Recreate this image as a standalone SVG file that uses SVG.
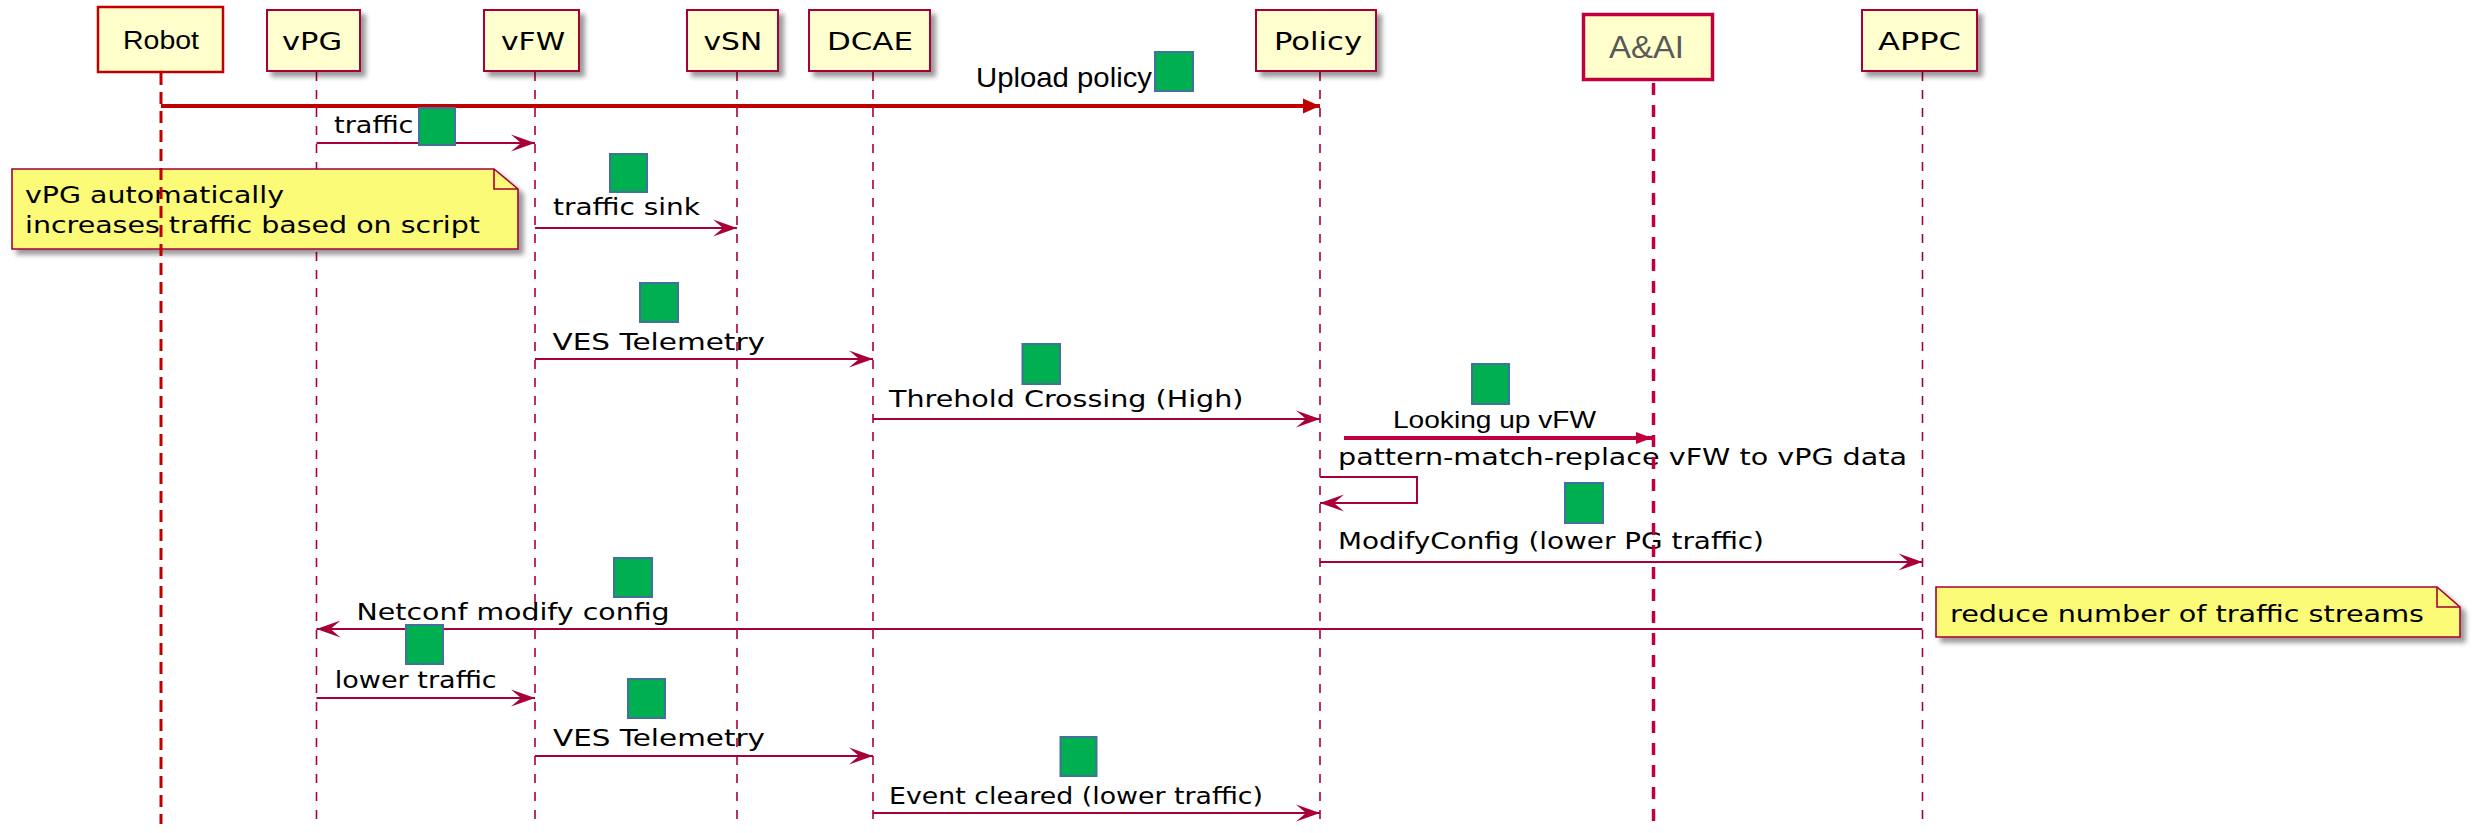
<svg xmlns="http://www.w3.org/2000/svg" width="2476" height="833" viewBox="0 0 2476 833">
<defs>
<style>
.pbox{fill:#FEFECE;stroke:#A80036;stroke-width:2}
.ptxt{font-family:"DejaVu Sans",sans-serif;font-size:25px;fill:#000}
.life{stroke:#A80036;stroke-width:1.6;stroke-dasharray:9 9;fill:none}
.msg{stroke:#A80036;stroke-width:2;fill:none;marker-end:url(#ah)}
.mtxt{font-family:"DejaVu Sans",sans-serif;font-size:23px;fill:#000}
.note{fill:#FBFB77;stroke:#A80036;stroke-width:1.6}
.ovl{font-family:"Liberation Sans",Arial,sans-serif;fill:#000}
.gsq{fill:#00B050;stroke:#41719C;stroke-width:2}
</style>
<filter id="sh" x="-10%" y="-10%" width="130%" height="140%">
<feGaussianBlur in="SourceAlpha" stdDeviation="2.5"/>
<feOffset dx="5" dy="5" result="o"/>
<feComponentTransfer><feFuncA type="linear" slope="0.4"/></feComponentTransfer>
<feMerge><feMergeNode/><feMergeNode in="SourceGraphic"/></feMerge>
</filter>
<marker id="ah" markerUnits="userSpaceOnUse" markerWidth="26" markerHeight="20" refX="24" refY="10" orient="auto" overflow="visible">
<path d="M24,10 L0,1.5 L10,10 L0,18.5 Z" fill="#A80036"/>
</marker>
<marker id="ahred" markerUnits="userSpaceOnUse" markerWidth="18" markerHeight="16" refX="17" refY="8" orient="auto" overflow="visible">
<path d="M0,0.5 L17,8 L0,15.5 Z" fill="#C00000"/>
</marker>
<marker id="ahcr" markerUnits="userSpaceOnUse" markerWidth="17" markerHeight="14" refX="16" refY="7" orient="auto" overflow="visible">
<path d="M0,1 L16,7 L0,13 Z" fill="#C0003C"/>
</marker>
</defs>
<rect width="2476" height="833" fill="#FFFFFF"/>

<g id="lifelines">
<line class="life" x1="316.5" y1="72" x2="316.5" y2="824"/>
<line class="life" x1="535" y1="72" x2="535" y2="824"/>
<line class="life" x1="737" y1="72" x2="737" y2="824"/>
<line class="life" x1="873" y1="72" x2="873" y2="824"/>
<line class="life" x1="1320" y1="72" x2="1320" y2="824"/>
<line class="life" x1="1922.5" y1="72" x2="1922.5" y2="824"/>
</g>

<g id="vPG"><rect class="pbox" x="267" y="10" width="93" height="61" filter="url(#sh)"/><text class="ptxt" x="282" y="50" textLength="60" lengthAdjust="spacingAndGlyphs">vPG</text></g>
<g id="vFW"><rect class="pbox" x="484" y="10" width="95" height="61" filter="url(#sh)"/><text class="ptxt" x="501" y="50" textLength="64" lengthAdjust="spacingAndGlyphs">vFW</text></g>
<g id="vSN"><rect class="pbox" x="687" y="10" width="91" height="61" filter="url(#sh)"/><text class="ptxt" x="703.5" y="50" textLength="58.6" lengthAdjust="spacingAndGlyphs">vSN</text></g>
<g id="DCAE"><rect class="pbox" x="809" y="10" width="121" height="61" filter="url(#sh)"/><text class="ptxt" x="827" y="50" textLength="86" lengthAdjust="spacingAndGlyphs">DCAE</text></g>
<g id="Policy"><rect class="pbox" x="1256" y="10" width="120" height="61" filter="url(#sh)"/><text class="ptxt" x="1274" y="50" textLength="88" lengthAdjust="spacingAndGlyphs">Policy</text></g>
<g id="APPC"><rect class="pbox" x="1862" y="10" width="115" height="61" filter="url(#sh)"/><text class="ptxt" x="1878" y="50" textLength="83" lengthAdjust="spacingAndGlyphs">APPC</text></g>

<g id="note-vpg">
<path class="note" d="M12,169 L494,169 L518,189 L518,249 L12,249 Z" filter="url(#sh)"/>
<path d="M494,169 L494,189 L518,189" fill="none" stroke="#A80036" stroke-width="1.6"/>
<text class="mtxt" x="25" y="203" textLength="259" lengthAdjust="spacingAndGlyphs">vPG automatically</text>
<text class="mtxt" x="25" y="233" textLength="455" lengthAdjust="spacingAndGlyphs">increases traffic based on script</text>
</g>

<g id="note-appc">
<path class="note" d="M1936,587 L2437,587 L2460,607 L2460,637 L1936,637 Z" filter="url(#sh)"/>
<path d="M2437,587 L2437,607 L2460,607" fill="none" stroke="#A80036" stroke-width="1.6"/>
<text class="mtxt" x="1950" y="622" textLength="474" lengthAdjust="spacingAndGlyphs">reduce number of traffic streams</text>
</g>

<g id="connectors">
<line class="msg" x1="316.5" y1="143" x2="535" y2="143"/>
<line class="msg" x1="535" y1="228" x2="737" y2="228"/>
<line class="msg" x1="535" y1="359" x2="873" y2="359"/>
<line class="msg" x1="873" y1="419" x2="1320" y2="419"/>
<path class="msg" d="M1320,477 L1417,477 L1417,503 L1320,503"/>
<line class="msg" x1="1320" y1="562" x2="1922.5" y2="562"/>
<line class="msg" x1="1922.5" y1="629" x2="316.5" y2="629"/>
<line class="msg" x1="316.5" y1="698" x2="535" y2="698"/>
<line class="msg" x1="535" y1="756" x2="873" y2="756"/>
<line class="msg" x1="873" y1="813" x2="1320" y2="813"/>
<line x1="161" y1="106" x2="1320" y2="106" stroke="#C00000" stroke-width="4" marker-end="url(#ahred)"/>
<line x1="1344" y1="438" x2="1652" y2="438" stroke="#C0003C" stroke-width="4" marker-end="url(#ahcr)"/>
</g>

<g id="labels">
<text class="mtxt" x="334" y="133" textLength="79.5" lengthAdjust="spacingAndGlyphs">traffic</text>
<text class="mtxt" x="553" y="215" textLength="147" lengthAdjust="spacingAndGlyphs">traffic sink</text>
<text class="mtxt" x="552.5" y="350" textLength="212.5" lengthAdjust="spacingAndGlyphs">VES Telemetry</text>
<text class="mtxt" x="889" y="407" textLength="354.5" lengthAdjust="spacingAndGlyphs">Threhold Crossing (High)</text>
<text class="mtxt" x="1338" y="465" textLength="569" lengthAdjust="spacingAndGlyphs">pattern-match-replace vFW to vPG data</text>
<text class="mtxt" x="1338" y="549" textLength="426" lengthAdjust="spacingAndGlyphs">ModifyConfig (lower PG traffic)</text>
<text class="mtxt" x="356.6" y="620" textLength="313" lengthAdjust="spacingAndGlyphs">Netconf modify config</text>
<text class="mtxt" x="334.7" y="688" textLength="162" lengthAdjust="spacingAndGlyphs">lower traffic</text>
<text class="mtxt" x="553" y="746" textLength="212" lengthAdjust="spacingAndGlyphs">VES Telemetry</text>
<text class="mtxt" x="889" y="804" textLength="374" lengthAdjust="spacingAndGlyphs">Event cleared (lower traffic)</text>
<text class="ovl" x="976" y="87" font-size="28" textLength="176" lengthAdjust="spacingAndGlyphs">Upload policy</text>
<text class="ovl" x="1393" y="428" font-size="24" textLength="203" lengthAdjust="spacingAndGlyphs">Looking up vFW</text>
</g>

<g id="Robot">
<line x1="161" y1="73" x2="161" y2="824" stroke="#C00000" stroke-width="3" stroke-dasharray="12 7"/>
<rect x="98" y="7" width="125" height="65" fill="#FFFFCC" stroke="#C00000" stroke-width="2.5"/>
<text class="ovl" x="123" y="49" font-size="25" textLength="76" lengthAdjust="spacingAndGlyphs">Robot</text>
</g>

<g id="AAI">
<line x1="1653.5" y1="83" x2="1653.5" y2="824" stroke="#C0003C" stroke-width="3.5" stroke-dasharray="12 10"/>
<rect x="1583.5" y="14.5" width="129" height="65" fill="#FFFFCC" stroke="#C0003C" stroke-width="3.5"/>
<text x="1609" y="58" font-family="Liberation Sans, Arial, sans-serif" font-size="32" fill="#595959" textLength="75" lengthAdjust="spacingAndGlyphs">A&amp;AI</text>
</g>

<g id="markers">
<rect class="gsq" x="1155" y="52" width="38" height="39"/>
<rect class="gsq" x="419" y="108" width="36" height="37"/>
<rect class="gsq" x="610" y="154" width="37" height="38"/>
<rect class="gsq" x="640" y="283" width="38" height="39"/>
<rect class="gsq" x="1022.5" y="344" width="37.5" height="40"/>
<rect class="gsq" x="1472" y="364" width="37" height="40"/>
<rect class="gsq" x="1565" y="483" width="38" height="40"/>
<rect class="gsq" x="614" y="558" width="38" height="39"/>
<rect class="gsq" x="406" y="625" width="37" height="39"/>
<rect class="gsq" x="628" y="679" width="37" height="39"/>
<rect class="gsq" x="1060.5" y="737" width="36" height="39"/>
</g>
</svg>
